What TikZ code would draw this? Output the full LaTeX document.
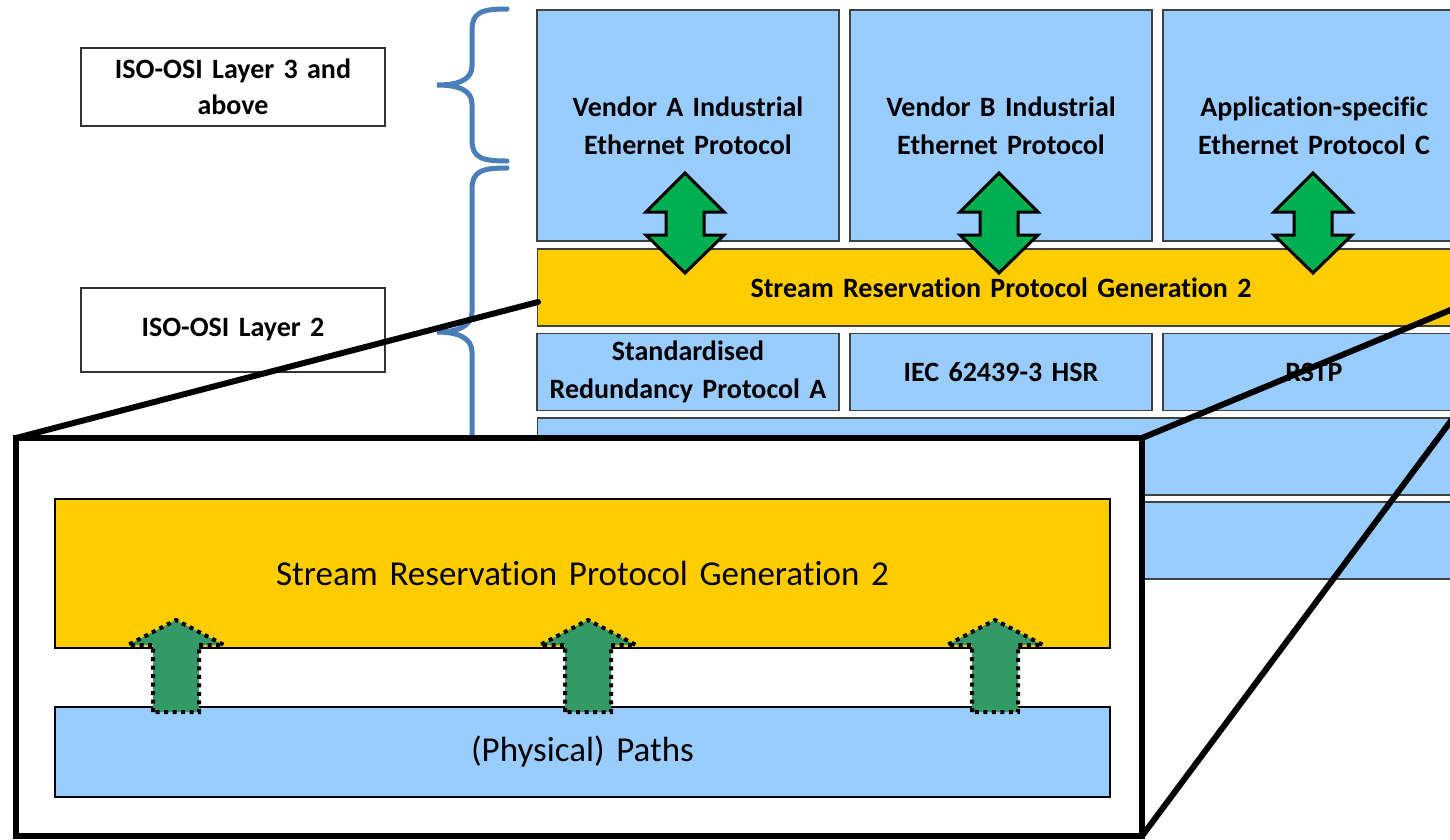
\documentclass[tikz,border=0pt]{standalone}
\usepackage{fontspec}
\setmainfont[Ligatures=NoCommon]{Carlito}
\usetikzlibrary{shapes,arrows}
\definecolor{layerblue}{HTML}{99CCFF}
\definecolor{srpyellow}{HTML}{FFCC00}
\definecolor{braceblue}{HTML}{4A7EBB}
\definecolor{arrowgreen}{HTML}{00B050}
\definecolor{dotgreen}{HTML}{339966}

\begin{document}
\begin{tikzpicture}[x=1pt, y=-1pt, node distance=313pt, auto]
  \tikzstyle{osi} = [rectangle, draw=black!80, fill=white, line width=1.2pt,
    text width=290pt, text centered, minimum width=304pt, inner sep=0pt,
    font=\fontsize{28}{36}\selectfont\bfseries]
  \tikzstyle{proto} = [rectangle, draw=black!75, fill=layerblue, line width=1.5pt,
    text width=290pt, text centered, minimum width=302pt, minimum height=231pt,
    inner sep=0pt, font=\fontsize{28}{38}\selectfont\bfseries]
  \tikzstyle{redund} = [proto, minimum height=77pt]
  \tikzstyle{srpbar} = [redund, fill=srpyellow, minimum width=927pt, text width=900pt]
  \tikzstyle{lanbar} = [redund, minimum width=927pt, text width=900pt]
  \tikzstyle{brace} = [draw=braceblue, line width=5pt, line cap=round]
  \tikzstyle{updown} = [draw=black, fill=arrowgreen, line width=3pt, line join=miter]
  \tikzstyle{zoombox} = [rectangle, draw, line width=6pt, fill=white,
    minimum width=1126pt, minimum height=398pt, outer sep=0pt, inner sep=0pt]
  \tikzstyle{zoomlayer} = [rectangle, draw, line width=1.5pt, text width=1000pt,
    text centered, minimum width=1055pt, inner sep=0pt,
    font=\fontsize{35}{42}\selectfont]
  \tikzstyle{upflow} = [draw=black, fill=dotgreen, line width=4pt,
    dash pattern=on 4pt off 4.5pt]
  \tikzstyle{line} = [draw, line width=6pt, line cap=round]

  \useasboundingbox (0,0) rectangle (1450,839);

  % Place nodes
  \node [osi, minimum height=78pt] (layer3) at (233,87) {ISO-OSI Layer 3 and\\above};
  \node [osi, minimum height=84pt, below of=layer3, node distance=243pt] (layer2)
        {ISO-OSI Layer 2};

  \node [proto] (vendA) at (688,125.5) {Vendor A Industrial\\Ethernet Protocol};
  \node [proto, right of=vendA] (vendB) {Vendor B Industrial\\Ethernet Protocol};
  \node [proto, right of=vendB] (appC) {Application-specific\\Ethernet Protocol C};
  \node [srpbar, below of=vendB, node distance=162pt] (srp)
        {Stream Reservation Protocol Generation 2};
  \node [redund, below of=vendA, node distance=246.5pt] (redA)
        {Standardised\\Redundancy Protocol A};
  \node [redund, right of=redA] (hsr) {IEC 62439-3 HSR};
  \node [redund, right of=hsr] (rstp) {RSTP};
  \node [lanbar, below of=srp, node distance=169pt] (lan3) {};
  \node [lanbar, below of=lan3, node distance=84pt] (lan4) {};

  % Braces
  \draw [brace] (507,9) .. controls (482,9) and (472,12) .. (472,30) -- (472,66)
    .. controls (472,80) and (458,85) .. (437,85)
    .. controls (458,85) and (472,90) .. (472,104) -- (472,140)
    .. controls (472,158) and (482,161) .. (507,161);
  \draw [brace] (507,168) .. controls (482,168) and (472,171) .. (472,189) -- (472,312)
    .. controls (472,326) and (458,332) .. (437,332)
    .. controls (458,332) and (472,338) .. (472,352) -- (472,476)
    .. controls (472,494) and (482,497) .. (507,497);

  % Double arrows
  \draw [updown] (685,173) -- ++(39,39) -- ++(-20,0) -- ++(0,23) -- ++(20,0)
    -- ++(-39,38) -- ++(-39,-38) -- ++(20,0) -- ++(0,-23) -- ++(-20,0) -- cycle;
  \draw [updown] (999,173) -- ++(39,39) -- ++(-20,0) -- ++(0,23) -- ++(20,0)
    -- ++(-39,38) -- ++(-39,-38) -- ++(20,0) -- ++(0,-23) -- ++(-20,0) -- cycle;
  \draw [updown] (1313,173) -- ++(39,39) -- ++(-20,0) -- ++(0,23) -- ++(20,0)
    -- ++(-39,38) -- ++(-39,-38) -- ++(20,0) -- ++(0,-23) -- ++(-20,0) -- cycle;

  % Zoomed view
  \node [zoombox] (zoom) at (579,637) {};
  \node [zoomlayer, fill=srpyellow, minimum height=149pt] (zsrp) at (582.5,573.5)
        {Stream Reservation Protocol Generation 2};
  \node [zoomlayer, fill=layerblue, minimum height=90pt, below of=zsrp,
         node distance=178.5pt] (zpaths) {(Physical) Paths};

  \draw [upflow] (153,712) -- ++(0,-67) -- ++(-25,0) -- ++(48,-25) -- ++(48,25)
    -- ++(-25,0) -- ++(0,67) -- cycle;
  \draw [upflow] (565,712) -- ++(0,-67) -- ++(-25,0) -- ++(48,-25) -- ++(48,25)
    -- ++(-25,0) -- ++(0,67) -- cycle;
  \draw [upflow] (972,712) -- ++(0,-67) -- ++(-25,0) -- ++(48,-25) -- ++(48,25)
    -- ++(-25,0) -- ++(0,67) -- cycle;

  % Draw edges
  \coordinate (srpcut) at (538,302);
  \coordinate (rtop) at (1465,304);
  \coordinate (rbot) at (1465,402);
  \path [line] (zoom.north west) -- (srpcut);
  \path [line] (zoom.north east) -- (rtop);
  \path [line] (zoom.south east) -- (rbot);

\end{tikzpicture}
\end{document}
